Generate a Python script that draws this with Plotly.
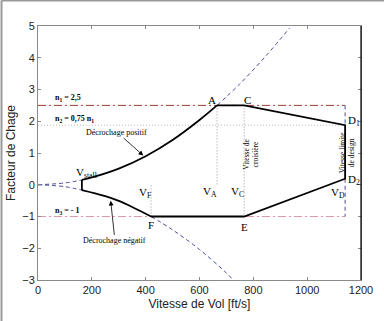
import plotly.graph_objects as go

# ---- data ----
V_pos = [0, 100, 163]
n_pos = [0, 0.057, 0.15]
V_pos_solid = [163, 200, 300, 400, 500, 600, 665]
n_pos_solid = [0.15, 0.23, 0.51, 0.90, 1.41, 2.04, 2.5]
V_pos_ext = [665, 750, 850, 935]
n_pos_ext = [2.5, 3.18, 4.09, 4.94]

V_neg = [0, 100, 163]
n_neg = [0, -0.06, -0.17]
V_neg_solid = [163, 250, 300, 350, 420]
n_neg_solid = [-0.17, -0.36, -0.51, -0.7, -1.0]
V_neg_ext = [420, 500, 600, 700, 725]
n_neg_ext = [-1.0, -1.42, -2.04, -2.78, -3.0]

V_stall = 163
V_A, V_C, V_F, V_D = 665, 766, 420, 1141
n1, n2, n3 = 2.5, 1.875, -1.0
n_D2 = 0.19

# envelope (A -> C -> D1 -> D2 -> E -> F)
env_V = [V_A, V_C, V_D, V_D, V_C, V_F]
env_n = [n1, n1, n2, n_D2, n3, n3]

fig = go.Figure()
blue = "#4b4b9b"
bdash = "4px,3px"

def add(x, y, color, width, dash="solid", shape="linear"):
    fig.add_trace(go.Scatter(x=x, y=y, mode="lines", showlegend=False, hoverinfo="skip",
                             line=dict(color=color, width=width, dash=dash, shape=shape)))

# reference lines
add([0, V_D], [n1, n1], "#a33a3a", 1, "8px,3px,2px,3px")
add([0, V_D], [n2, n2], "#bdbdbd", 1, "1px,2px")
add([0, V_D], [n3, n3], "#d99aa6", 1, "8px,3px,2px,3px")
# vertical dotted lines
add([V_A, V_A], [n1, 0], "#9a9a9a", 1, "1px,2px")
add([V_C, V_C], [n1, n3], "#9a9a9a", 1, "1px,2px")
add([V_F, V_F], [n3, 0], "#9a9a9a", 1, "1px,2px")
# vertical dashed at V_D
add([V_D, V_D], [n1, n2], blue, 1, bdash)
add([V_D, V_D], [n_D2, n3], blue, 1, bdash)
# stall curves dashed
add(V_pos, n_pos, blue, 1, bdash, "spline")
add(V_pos_ext, n_pos_ext, blue, 1, bdash, "spline")
add(V_neg, n_neg, blue, 1, bdash, "spline")
add(V_neg_ext, n_neg_ext, blue, 1, bdash, "spline")
# solid envelope
add([V_stall, V_stall], [n_neg[-1], n_pos[-1]], "black", 1.8)
add(V_pos_solid, n_pos_solid, "black", 1.8, "solid", "spline")
add(V_neg_solid, n_neg_solid, "black", 1.8, "solid", "spline")
add(env_V, env_n, "black", 1.8)

serif = "Liberation Serif, Times New Roman, serif"
def txt(x, y, s, size=11, angle=0, xanchor="center"):
    fig.add_annotation(x=x, y=y, text=s, showarrow=False, textangle=angle, xanchor=xanchor,
                       font=dict(family=serif, size=size, color="black"))

txt(647, 2.68, "A")
txt(780, 2.68, "C")
txt(1145, 2.0, "D<sub>1</sub>", xanchor="left")
txt(1145, 0.15, "D<sub>2</sub>", xanchor="left")
txt(766, -1.32, "E")
txt(420, -1.28, "F")
txt(180, 0.38, "V<sub>stall</sub>")
txt(640, -0.22, "V<sub>A</sub>")
txt(740, -0.22, "V<sub>C</sub>")
txt(398, -0.25, "V<sub>F</sub>")
txt(1115, -0.25, "V<sub>D</sub>")
txt(55, 2.73, "<b>n<sub>1</sub> = 2,5</b>", 8, xanchor="left")
txt(55, 2.08, "<b>n<sub>2</sub> = 0,75 n<sub>1</sub></b>", 8, xanchor="left")
txt(55, -0.82, "<b>n<sub>3</sub> = - 1</b>", 8, xanchor="left")
txt(792, 0.95, "Vitesse de<br>croisière", 7.5, -90)
txt(1148, 1.02, "Vitesse limite<br>de design", 7.5, -90)

fig.add_annotation(x=391, y=0.92, ax=293, ay=1.66, axref="x", ayref="y", text="Décrochage positif",
                   showarrow=True, arrowhead=2, arrowsize=1.2, arrowwidth=0.8, arrowcolor="black",
                   font=dict(family=serif, size=8, color="black"))
fig.add_annotation(x=270, y=-0.5, ax=286, ay=-1.77, axref="x", ayref="y", text="Décrochage négatif",
                   showarrow=True, arrowhead=2, arrowsize=1.2, arrowwidth=0.8, arrowcolor="black",
                   font=dict(family=serif, size=8, color="black"))

axis_common = dict(showgrid=False, zeroline=False, showline=True, linecolor="#8a8a8a", linewidth=1,
                   mirror="ticks", ticks="inside", ticklen=3, tickcolor="#8a8a8a", automargin=False,
                   tickfont=dict(family="Liberation Sans, Arial, sans-serif", size=11, color="#222"))
fig.update_xaxes(range=[0, 1200], tickvals=[0, 200, 400, 600, 800, 1000, 1200],
                 title=dict(text="Vitesse de Vol [ft/s]", standoff=4,
                            font=dict(family="Liberation Sans, Arial, sans-serif", size=12, color="#222")),
                 **axis_common)
fig.update_yaxes(range=[-3, 5], tickvals=[-3, -2, -1, 0, 1, 2, 3, 4, 5],
                 title=dict(text="Facteur de Chage", standoff=4,
                            font=dict(family="Liberation Sans, Arial, sans-serif", size=12, color="#222")),
                 **axis_common)

# right axis line darker, figure border on top/left
fig.add_shape(type="line", xref="paper", yref="paper", x0=1, x1=1, y0=0, y1=1,
              line=dict(color="black", width=1.2))
fig.add_shape(type="line", xref="paper", yref="paper", x0=-0.113, x1=1.1, y0=1.1, y1=1.1,
              line=dict(color="#999", width=2))
fig.add_shape(type="line", xref="paper", yref="paper", x0=-0.113, x1=-0.113, y0=-0.2, y1=1.1,
              line=dict(color="#999", width=2))

fig.update_layout(width=384, height=321, margin=dict(l=38, r=23, t=26, b=41),
                  paper_bgcolor="white", plot_bgcolor="white")
fig.write_html("out.html")
